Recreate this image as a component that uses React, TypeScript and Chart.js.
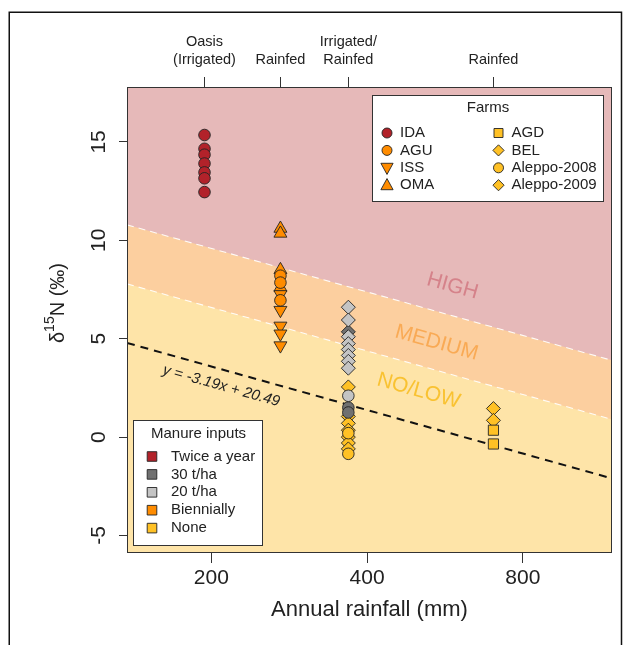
import React, { useEffect, useRef } from 'react';
import { Chart, registerables } from 'chart.js';

Chart.register(...registerables);

const FONT = "'Liberation Sans', Arial, Helvetica, sans-serif";

// axis ranges (rainfall in mm on a log axis, delta 15N in permil)
const xMin = 137.4;
const xMax = 1190;
const yMin = -5.89;
const yMax = 17.79;
const xTicks = [200, 400, 800];
const yTicks = [-5, 0, 5, 10, 15];

// top axis: site types
const siteRain = [194, 272, 368, 702];
const siteLabels: string[][] = [['Oasis', '(Irrigated)'], ['Rainfed'], ['Irrigated/', 'Rainfed'], ['Rainfed']];

// regression y = -3.19 ln(x) + 20.49 and band offsets
const regSlope = -3.19;
const regIntercept = 20.49;
const lowMedOffset = 3;
const medHighOffset = 6;

// points
const idaY = [15.35, 14.65, 14.35, 13.9, 13.45, 13.15, 12.45]; // x = 194
const omaY = [10.6, 10.35, 8.5, 7.6]; // x = 272
const aguY = [8.2, 7.85, 6.95];
const issY = [7.25, 6.45, 5.65, 5.25, 4.65];
const aleppo09Light = [6.6, 5.95, 5.1, 4.75, 4.45, 4.15, 3.85, 3.5]; // x = 368, 20 t/ha
const aleppo09Dark = [5.35]; // 30 t/ha
const aleppo08Light = [2.1];
const aleppo08Dark = [1.5, 1.25];
const aleppo09None = [2.55, 1.05, 0.7, 0.35, 0.0, -0.3, -0.6];
const aleppo08None = [0.2, -0.85];
const belY = [1.45, 0.85]; // x = 702
const agdY = [0.35, -0.35];

const farmNames = ['IDA', 'AGU', 'ISS', 'OMA', 'AGD', 'BEL', 'Aleppo-2008', 'Aleppo-2009'];
const manureNames = ['Twice a year', '30 t/ha', '20 t/ha', 'Biennially', 'None'];

const RED = '#B2222A';
const DGRAY = '#707070';
const LGRAY = '#C4C4C4';
const ORANGE = '#FF8C00';
const YELLOW = '#FFC125';
const manureColors = [RED, DGRAY, LGRAY, ORANGE, YELLOW];
const PB = 'rgba(35,35,35,0.9)';

const HIGH_BG = '#E6B9B9';
const MED_BG = '#FCCF9F';
const LOW_BG = '#FEE4A8';

const reg = (r: number) => regSlope * Math.log(r) + regIntercept;

function pts(x: number, ys: number[]) {
  return ys.map((y) => ({ x, y }));
}

function scatter(x: number, ys: number[], style: string, color: string, radius: number, rotation = 0) {
  return {
    data: pts(x, ys),
    showLine: false,
    pointStyle: style,
    pointRotation: rotation,
    pointRadius: radius,
    pointBackgroundColor: color,
    pointBorderColor: PB,
    pointBorderWidth: 1,
    order: 1,
  };
}

function lineDs(ys: number[], fill: any, bg: string, border: string, width: number, dash: number[], order: number) {
  return {
    data: [
      { x: xMin, y: ys[0] },
      { x: xMax, y: ys[1] },
    ],
    showLine: true,
    fill,
    backgroundColor: bg,
    borderColor: border,
    borderWidth: width,
    borderDash: dash,
    pointRadius: 0,
    order,
  };
}

function drawSymbol(ctx: CanvasRenderingContext2D, kind: string, x: number, y: number, r: number, color: string) {
  ctx.save();
  ctx.beginPath();
  if (kind === 'circle') {
    ctx.arc(x, y, r, 0, Math.PI * 2);
  } else if (kind === 'square') {
    ctx.rect(x - r, y - r, 2 * r, 2 * r);
  } else if (kind === 'diamond') {
    ctx.moveTo(x, y - r * 1.3);
    ctx.lineTo(x + r * 1.3, y);
    ctx.lineTo(x, y + r * 1.3);
    ctx.lineTo(x - r * 1.3, y);
    ctx.closePath();
  } else if (kind === 'up') {
    ctx.moveTo(x, y - r * 1.25);
    ctx.lineTo(x + r * 1.15, y + r * 0.85);
    ctx.lineTo(x - r * 1.15, y + r * 0.85);
    ctx.closePath();
  } else if (kind === 'down') {
    ctx.moveTo(x, y + r * 1.25);
    ctx.lineTo(x + r * 1.15, y - r * 0.85);
    ctx.lineTo(x - r * 1.15, y - r * 0.85);
    ctx.closePath();
  }
  ctx.fillStyle = color;
  ctx.fill();
  ctx.strokeStyle = PB;
  ctx.lineWidth = 1;
  ctx.stroke();
  ctx.restore();
}

const decorPlugin = {
  id: 'decor',
  beforeDraw(chart: any) {
    const ctx = chart.ctx as CanvasRenderingContext2D;
    ctx.save();
    ctx.fillStyle = '#ffffff';
    ctx.fillRect(0, 0, chart.width, chart.height);
    ctx.strokeStyle = '#111';
    ctx.lineWidth = 1.5;
    ctx.beginPath();
    ctx.moveTo(9.25, 700);
    ctx.lineTo(9.25, 12.25);
    ctx.lineTo(621.5, 12.25);
    ctx.lineTo(621.5, 700);
    ctx.stroke();
    ctx.restore();
  },
  afterDatasetsDraw(chart: any) {
    const ctx = chart.ctx as CanvasRenderingContext2D;
    const xs = chart.scales.x;
    const ys = chart.scales.y;
    const a = chart.chartArea;
    ctx.save();

    // band labels
    const ang = Math.atan2(
      ys.getPixelForValue(reg(xMax)) - ys.getPixelForValue(reg(xMin)),
      xs.getPixelForValue(xMax) - xs.getPixelForValue(xMin)
    );
    const bandText = [
      { t: 'HIGH', r: 585, off: 7.5, c: '#D5828A' },
      { t: 'MEDIUM', r: 545, off: 4.4, c: '#F9AA55' },
      { t: 'NO/LOW', r: 503, off: 1.7, c: '#F9C232' },
    ];
    ctx.font = `21px ${FONT}`;
    ctx.textAlign = 'center';
    ctx.textBaseline = 'middle';
    for (const b of bandText) {
      ctx.save();
      ctx.translate(xs.getPixelForValue(b.r), ys.getPixelForValue(reg(b.r) + b.off));
      ctx.rotate(ang);
      ctx.fillStyle = b.c;
      ctx.fillText(b.t, 0, 0);
      ctx.restore();
    }
    // regression label
    ctx.save();
    ctx.translate(xs.getPixelForValue(209), ys.getPixelForValue(reg(209) - 0.85));
    ctx.rotate(ang);
    ctx.font = `italic 15px ${FONT}`;
    ctx.fillStyle = '#222';
    ctx.fillText('y = -3.19x + 20.49', 0, 0);
    ctx.restore();

    // plot box
    ctx.strokeStyle = '#333';
    ctx.lineWidth = 1;
    ctx.strokeRect(a.left + 0.5, a.top + 0.5, a.right - a.left - 1, a.bottom - a.top - 1);

    // y tick labels (rotated)
    ctx.font = `21px ${FONT}`;
    ctx.fillStyle = '#222';
    for (const v of yTicks) {
      ctx.save();
      ctx.translate(a.left - 28, ys.getPixelForValue(v));
      ctx.rotate(-Math.PI / 2);
      ctx.textAlign = 'center';
      ctx.textBaseline = 'middle';
      ctx.fillText(String(v), 0, 0);
      ctx.restore();
    }

    // y title
    ctx.save();
    ctx.translate(58, 303);
    ctx.rotate(-Math.PI / 2);
    const f1 = `20px ${FONT}`;
    const f2 = `14px ${FONT}`;
    ctx.font = f1;
    const w1 = ctx.measureText('δ').width;
    const w3 = ctx.measureText('N (‰)').width;
    ctx.font = f2;
    const w2 = ctx.measureText('15').width;
    let tx = -(w1 + w2 + w3) / 2;
    ctx.textAlign = 'left';
    ctx.textBaseline = 'middle';
    ctx.fillStyle = '#222';
    ctx.font = f1;
    ctx.fillText('δ', tx, 0);
    tx += w1;
    ctx.font = f2;
    ctx.fillText('15', tx, -8);
    tx += w2;
    ctx.font = f1;
    ctx.fillText('N (‰)', tx, 0);
    ctx.restore();

    // x title
    ctx.font = `22px ${FONT}`;
    ctx.textAlign = 'center';
    ctx.textBaseline = 'middle';
    ctx.fillStyle = '#222';
    ctx.fillText('Annual rainfall (mm)', (a.left + a.right) / 2, 610);

    // Farms legend
    const fx0 = a.right - 240;
    const fy0 = a.top + 8;
    ctx.fillStyle = '#fff';
    ctx.fillRect(fx0, fy0, 231, 106);
    ctx.strokeStyle = '#333';
    ctx.strokeRect(fx0 + 0.5, fy0 + 0.5, 231, 106);
    ctx.font = `15px ${FONT}`;
    ctx.fillStyle = '#222';
    ctx.textAlign = 'center';
    ctx.fillText('Farms', fx0 + 116, fy0 + 13);
    const farmSym = [
      ['circle', RED],
      ['circle', ORANGE],
      ['down', ORANGE],
      ['up', ORANGE],
      ['square', YELLOW],
      ['diamond', YELLOW],
      ['circle', YELLOW],
      ['diamond', YELLOW],
    ];
    ctx.textAlign = 'left';
    farmNames.forEach((n, i) => {
      const col = i < 4 ? 0 : 1;
      const row = i % 4;
      const sx = fx0 + 15 + col * 111.5;
      const sy = fy0 + 38 + row * 17.4;
      const kind = farmSym[i][0];
      const rr = kind === 'square' ? 4.5 : kind === 'diamond' ? 4.3 : kind === 'circle' ? 5 : 5.3;
      drawSymbol(ctx, kind, sx, sy, rr, farmSym[i][1]);
      ctx.fillStyle = '#222';
      ctx.fillText(n, sx + 13, sy);
    });

    // Manure legend
    const mx0 = a.left + 6;
    const my0 = a.bottom - 133;
    ctx.fillStyle = '#fff';
    ctx.fillRect(mx0, my0, 129, 125);
    ctx.strokeStyle = '#333';
    ctx.strokeRect(mx0 + 0.5, my0 + 0.5, 129, 125);
    ctx.fillStyle = '#222';
    ctx.fillText('Manure inputs', mx0 + 18, my0 + 14);
    manureNames.forEach((n, i) => {
      const sy = my0 + 36.5 + i * 17.9;
      drawSymbol(ctx, 'square', mx0 + 19, sy, 4.8, manureColors[i]);
      ctx.fillStyle = '#222';
      ctx.fillText(n, mx0 + 38, sy);
    });

    ctx.restore();
  },
};

export default function App() {
  const ref = useRef<HTMLCanvasElement>(null);
  useEffect(() => {
    if (!ref.current) return;
    const datasets: any[] = [
      lineDs([yMax, yMax], 'start', HIGH_BG, 'rgba(0,0,0,0)', 0, [], 20),
      lineDs([reg(xMin) + medHighOffset, reg(xMax) + medHighOffset], 'start', MED_BG, 'rgba(255,255,255,0.9)', 1.1, [7, 5], 19),
      lineDs([reg(xMin) + lowMedOffset, reg(xMax) + lowMedOffset], 'start', LOW_BG, 'rgba(255,255,255,0.9)', 1.1, [7, 5], 18),
      lineDs([reg(xMin), reg(xMax)], false, 'rgba(0,0,0,0)', '#111', 2, [8, 6], 17),
      scatter(siteRain[0], idaY, 'circle', RED, 5.8),
      scatter(siteRain[1], aguY, 'circle', ORANGE, 5.8),
      scatter(siteRain[1], issY, 'triangle', ORANGE, 7.5, 180),
      scatter(siteRain[1], omaY, 'triangle', ORANGE, 7.5),
      scatter(siteRain[2], aleppo09Light, 'rectRot', LGRAY, 7),
      scatter(siteRain[2], aleppo09Dark, 'rectRot', DGRAY, 7),
      scatter(siteRain[2], aleppo08Light, 'circle', LGRAY, 5.8),
      scatter(siteRain[2], aleppo08Dark, 'circle', DGRAY, 5.8),
      scatter(siteRain[2], aleppo08None, 'circle', YELLOW, 5.8),
      scatter(siteRain[2], aleppo09None, 'rectRot', YELLOW, 7),
      scatter(siteRain[3], agdY, 'rect', YELLOW, 7.2),
      scatter(siteRain[3], belY, 'rectRot', YELLOW, 7),
    ];
    const chart = new Chart(ref.current, {
      type: 'scatter',
      data: { datasets },
      options: {
        responsive: false,
        animation: false,
        devicePixelRatio: 1,
        layout: { padding: { left: 0, right: 22, top: 0, bottom: 0 } },
        plugins: { legend: { display: false }, tooltip: { enabled: false } },
        scales: {
          x: {
            type: 'logarithmic',
            position: 'bottom',
            min: xMin,
            max: xMax,
            afterBuildTicks: (s: any) => {
              s.ticks = xTicks.map((v) => ({ value: v }));
            },
            afterFit: (s: any) => {
              s.height = 92;
            },
            ticks: {
              autoSkip: false,
              minRotation: 0,
              maxRotation: 0,
              padding: 3,
              color: '#222',
              font: { family: FONT, size: 21 },
              callback: (v: any) => String(v),
            },
            grid: { drawOnChartArea: false, drawTicks: true, tickLength: 10, color: '#333' },
            border: { display: false },
          },
          xTop: {
            type: 'logarithmic',
            axis: 'x',
            position: 'top',
            min: xMin,
            max: xMax,
            afterBuildTicks: (s: any) => {
              s.ticks = siteRain.map((v) => ({ value: v }));
            },
            afterFit: (s: any) => {
              s.height = 87;
            },
            ticks: {
              autoSkip: false,
              minRotation: 0,
              maxRotation: 0,
              padding: 8,
              color: '#222',
              font: { family: FONT, size: 14.5, lineHeight: 1.26 },
              callback: (v: any) => siteLabels[siteRain.indexOf(v)] as any,
            },
            grid: { drawOnChartArea: false, drawTicks: true, tickLength: 10, color: '#333' },
            border: { display: false },
          },
          y: {
            type: 'linear',
            min: yMin,
            max: yMax,
            afterBuildTicks: (s: any) => {
              s.ticks = yTicks.map((v) => ({ value: v }));
            },
            afterFit: (s: any) => {
              s.width = 127;
            },
            ticks: { display: false },
            grid: { drawOnChartArea: false, drawTicks: true, tickLength: 8, color: '#333' },
            border: { display: false },
          },
        },
      } as any,
      plugins: [decorPlugin as any],
    });
    return () => chart.destroy();
  }, []);
  return (
    <div style={{ position: 'fixed', left: 0, top: 0, width: 634, height: 645, background: '#fff' }}>
      <canvas ref={ref} width={634} height={645} style={{ display: 'block' }} />
    </div>
  );
}
